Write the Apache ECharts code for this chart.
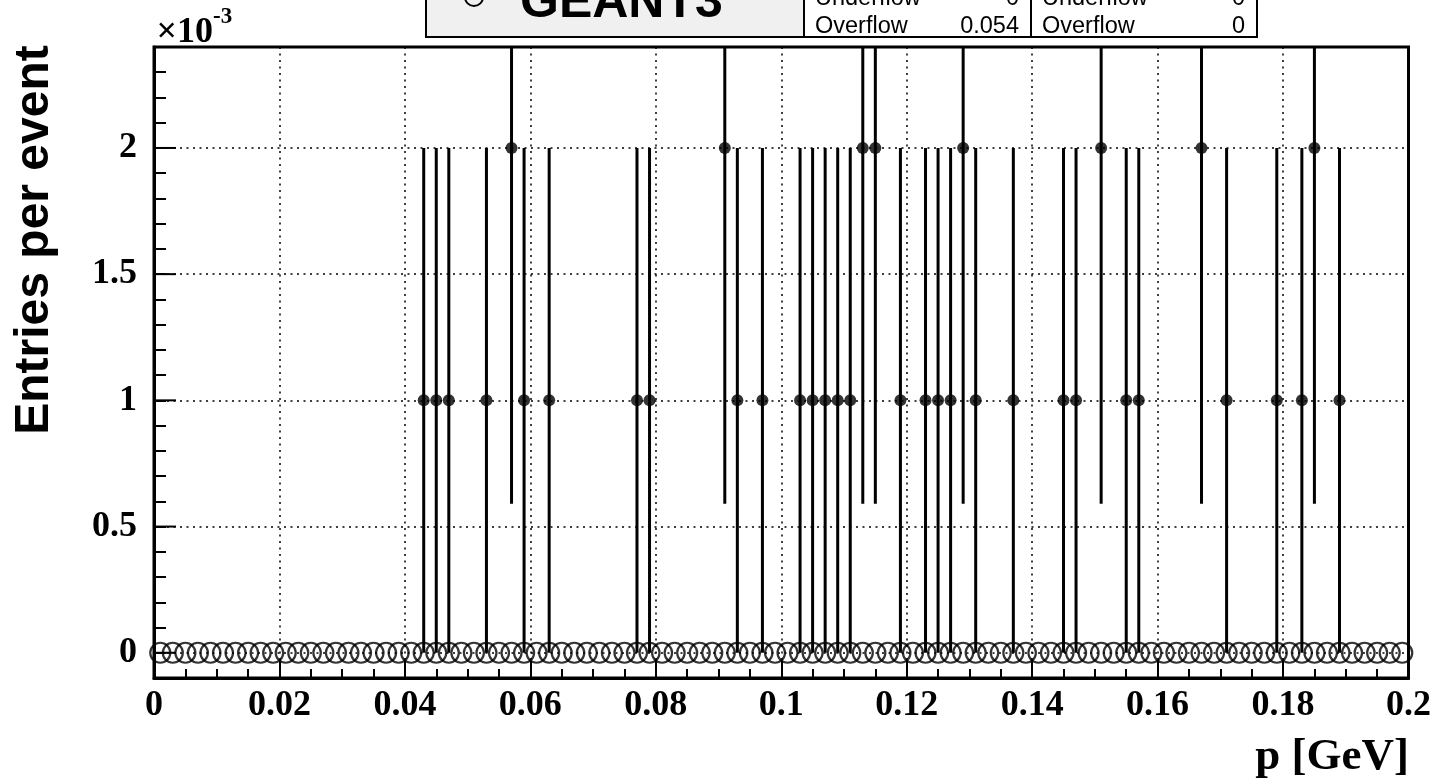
<!DOCTYPE html>
<html><head><meta charset="utf-8">
<script src="https://cdn.jsdelivr.net/npm/echarts@6/dist/echarts.min.js"></script>
<style>html,body{margin:0;padding:0;background:#fff}#c{width:1434px;height:779px}</style>
</head><body><div id="c"></div>
<script>
// ---- axis ranges (y in units of 1e-3) ----
const X_MIN = 0, X_MAX = 0.2, BIN_WIDTH = 0.002;
const Y_MIN = -0.1, Y_MAX = 2.4;

// ---- GEANT3 histogram (open circles), 100 bins ----
const geant3Values = [
  0,0,0,0,0,0,0,0,0,0, 0,0,0,0,0,0,0,0,0,0,
  0,0,0,0,0,0,0,0,0,0, 0,0,0,0,0,0,0,0,0,0,
  0,0,0,0,0,0,0,0,0,0, 0,0,0,0,0,0,0,0,0,0,
  0,0,0,0,0,0,0,0,0,0, 0,0,0,0,0,0,0,0,0,0,
  0,0,0,0,0,0,0,0,0,0, 0,0,0,0,0,0,0,0,0,0
];

// ---- filled-marker histogram: non-empty bins ----
const dataX = [0.043,0.045,0.047,0.053,0.057,0.059,0.063,0.077,0.079,0.091,
               0.093,0.097,0.103,0.105,0.107,0.109,0.111,0.113,0.115,0.119,
               0.123,0.125,0.127,0.129,0.131,0.137,0.145,0.147,0.151,0.155,
               0.157,0.167,0.171,0.179,0.183,0.185,0.189];
const dataY = [1,1,1,1,2,1,1,1,1,2,
               1,1,1,1,1,1,1,2,2,1,
               1,1,1,2,1,1,1,1,2,1,
               1,2,1,1,1,2,1];
const dataErr = [1,1,1,1,1.41,1,1,1,1,1.41,
                 1,1,1,1,1,1,1,1.41,1.41,1,
                 1,1,1,1.41,1,1,1,1,1.41,1,
                 1,1.41,1,1,1,1.41,1];

// ---- ticks / labels ----
const yMajorTicks = [0, 0.5, 1, 1.5, 2];
const statsLeft = [['Underflow', '0'], ['Overflow', '0.054']];
const statsRight = [['Underflow', '0'], ['Overflow', '0']];
const legendLabel = 'GEANT3';
const xTitle = 'p [GeV]';
const yTitle = 'Entries per event';

const SERIF = '"Liberation Serif", "Times New Roman", serif';
const SANS = '"Liberation Sans", Arial, sans-serif';

const geantData = geant3Values.map((v, i) => [X_MIN + BIN_WIDTH * (i + 0.5), v]);
const pointData = dataX.map((x, i) => [x, dataY[i], dataErr[i]]);

const chart = echarts.init(document.getElementById('c'), null, {renderer: 'canvas'});

function statsGraphics(x0, w, rows) {
  const g = [{type: 'rect', shape: {x: x0, y: -30, width: w, height: 67},
              style: {fill: '#fff', stroke: '#000', lineWidth: 2}, z: 100}];
  rows.forEach((r, i) => {
    const yc = -1 + i * 28;
    g.push({type: 'text', x: x0 + 11, y: yc, z: 101,
      style: {text: r[0], font: '23.5px ' + SANS, fill: '#000', textAlign: 'left', textVerticalAlign: 'middle'}});
    g.push({type: 'text', x: x0 + w - 12, y: yc, z: 101,
      style: {text: r[1], font: '23.5px ' + SANS, fill: '#000', textAlign: 'right', textVerticalAlign: 'middle'}});
  });
  return g;
}

const option = {
  animation: false,
  backgroundColor: '#fff',
  grid: {left: 154, top: 47, width: 1255, height: 631, show: true,
         borderColor: '#000', borderWidth: 3, backgroundColor: 'transparent'},
  xAxis: {
    type: 'value', min: X_MIN, max: X_MAX, interval: 0.02,
    axisLine: {show: true, onZero: false, lineStyle: {color: '#000', width: 3}},
    axisTick: {show: true, inside: true, length: 17, lineStyle: {color: '#000', width: 2}},
    minorTick: {show: true, splitNumber: 4, length: 9, lineStyle: {color: '#000', width: 2}},
    splitLine: {show: true, lineStyle: {color: '#000', width: 1.5, type: [2, 4.5]}},
    axisLabel: {show: true, margin: 10, color: '#000', fontFamily: SERIF, fontWeight: 'bold', fontSize: 36,
      formatter: v => (Math.abs(v) < 1e-9 ? '0' : String(+v.toFixed(3)))}
  },
  yAxis: {
    type: 'value', min: Y_MIN, max: Y_MAX, interval: 0.1,
    axisLine: {show: true, onZero: false, lineStyle: {color: '#000', width: 3}},
    axisTick: {show: true, inside: true, length: 12, lineStyle: {color: '#000', width: 2}},
    splitLine: {show: false},
    axisLabel: {show: true, margin: 17, color: '#000', fontFamily: SERIF, fontWeight: 'bold', fontSize: 36,
      formatter: v => {
        if (v < -1e-9) return '';
        if (Math.abs(v * 2 - Math.round(v * 2)) > 1e-6) return '';
        if (v > 2.01) return '';
        return Math.abs(v) < 1e-9 ? '0' : String(+v.toFixed(1));
      }}
  },
  graphic: [
    {type: 'rect', shape: {x: 426, y: -30, width: 378, height: 67},
     style: {fill: '#f0f0f0', stroke: '#000', lineWidth: 2}, z: 100},
    {type: 'circle', shape: {cx: 474, cy: -3, r: 9},
     style: {fill: 'none', stroke: '#000', lineWidth: 2}, z: 101},
    {type: 'text', x: 520, y: 3, z: 101,
     style: {text: legendLabel, font: 'bold 50px ' + SANS, fill: '#000', textAlign: 'left', textVerticalAlign: 'middle'}},
    ...statsGraphics(804, 227, statsLeft),
    ...statsGraphics(1031, 226, statsRight),
    {type: 'text', x: 213, y: 33, z: 101,
     style: {text: '\u00d710', fill: '#000', font: 'bold 36px ' + SERIF,
             textAlign: 'right', textVerticalAlign: 'middle'}},
    {type: 'text', x: 213, y: 17, z: 101,
     style: {text: '-3', fill: '#000', font: 'bold 23px ' + SERIF,
             textAlign: 'left', textVerticalAlign: 'middle'}},
    {type: 'text', x: 1409, y: 757, z: 101,
     style: {text: xTitle, font: 'bold 45px ' + SERIF, fill: '#000', textAlign: 'right', textVerticalAlign: 'middle'}},
    {type: 'text', x: 35, y: 240, rotation: Math.PI / 2, z: 101,
     style: {text: yTitle, font: 'bold 48px ' + SANS, fill: '#000', textAlign: 'center', textVerticalAlign: 'middle'}}
  ],
  series: [
    {
      name: 'GEANT3', type: 'scatter', data: geantData, clip: false, silent: true,
      symbol: 'circle', symbolSize: 20,
      itemStyle: {color: 'rgba(0,0,0,0)', borderColor: '#000', borderWidth: 2.2},
      z: 3,
      markLine: {
        silent: true, symbol: ['none', 'none'], label: {show: false},
        lineStyle: {color: '#000', width: 1.5, type: [2, 4.5]},
        data: yMajorTicks.map(v => ({yAxis: v}))
      }
    },
    {
      name: 'yMajorTicks', type: 'custom', silent: true, clip: false, z: 4,
      data: yMajorTicks.map(v => [X_MIN, v]),
      renderItem: (params, api) => {
        const p = api.coord([api.value(0), api.value(1)]);
        return {type: 'line', shape: {x1: p[0], y1: p[1], x2: p[0] + 22, y2: p[1]},
                style: {stroke: '#000', lineWidth: 2}};
      }
    },
    {
      name: 'errors', type: 'custom', silent: true, clip: true, z: 5,
      data: pointData,
      renderItem: (params, api) => {
        const x = api.value(0), y = api.value(1), e = api.value(2);
        const top = api.coord([x, Math.min(y + e, Y_MAX)]);
        const bot = api.coord([x, Math.max(y - e, Y_MIN)]);
        return {type: 'line', shape: {x1: top[0], y1: top[1], x2: bot[0], y2: bot[1]},
                style: {stroke: '#000', lineWidth: 3}};
      }
    },
    {
      name: 'data', type: 'scatter', data: pointData.map(d => [d[0], d[1]]),
      symbol: 'circle', symbolSize: 12, itemStyle: {color: '#000'}, z: 6, silent: true
    }
  ]
};
chart.setOption(option);
</script>
</body></html>
